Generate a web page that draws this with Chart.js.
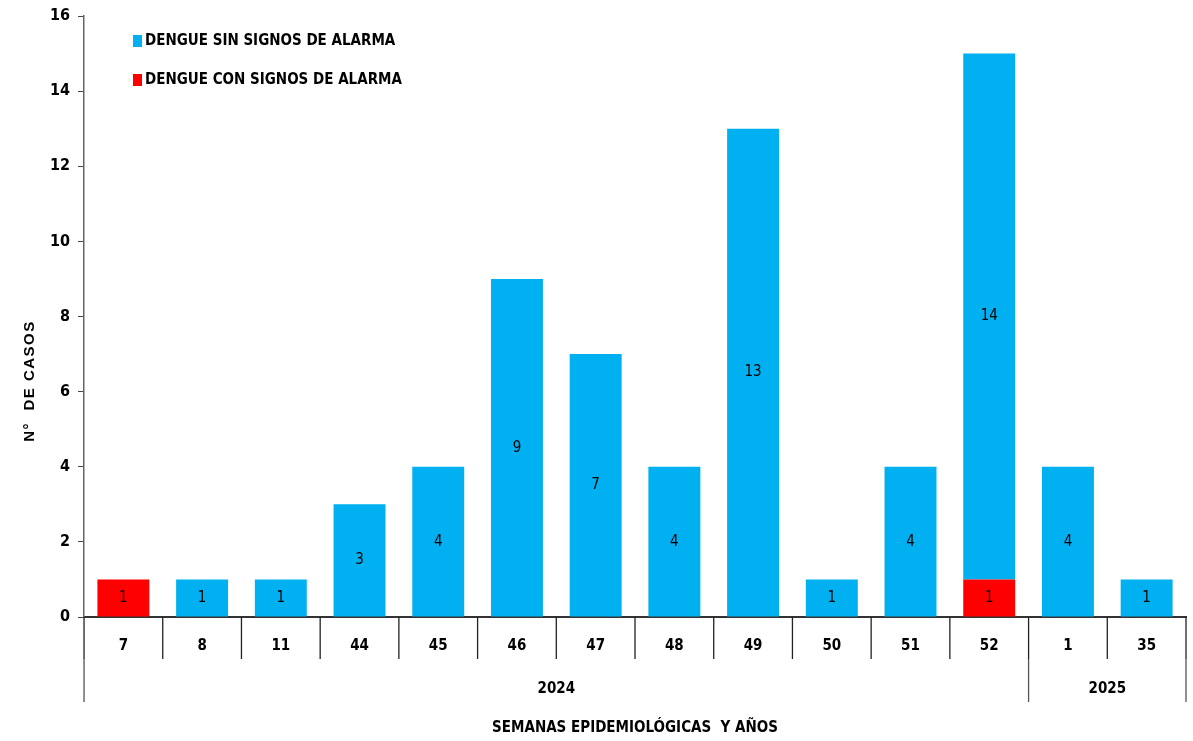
<!DOCTYPE html>
<html>
<head>
<meta charset="utf-8">
<script src="https://cdn.jsdelivr.net/npm/chart.js@4"></script>
<style>
  html, body { margin: 0; padding: 0; background: #fff; }
  #wrap { width: 1193px; height: 741px; }
</style>
</head>
<body>
<div id="wrap"><canvas id="casosChart" width="1193" height="741"></canvas></div>
<script>
// semanas epidemiologicas y años
const semanas = ['7', '8', '11', '44', '45', '46', '47', '48', '49', '50', '51', '52', '1', '35'];
const anios = [
  { label: '2024', from: 0, to: 11 },
  { label: '2025', from: 12, to: 13 }
];
const sinSignos = [0, 1, 1, 3, 4, 9, 7, 4, 13, 1, 4, 14, 4, 1];
const conSignos = [1, 0, 0, 0, 0, 0, 0, 0, 0, 0, 0, 1, 0, 0];
const yTicks = [0, 2, 4, 6, 8, 10, 12, 14, 16];

const NARROW = "'Liberation Sans Narrow', 'DejaVu Sans Condensed', 'Arial Narrow', sans-serif";

// etiquetas dentro de las barras
const barLabels = {
  id: 'barLabels',
  afterDatasetsDraw(chart) {
    const ctx = chart.ctx;
    ctx.save();
    ctx.font = '15px ' + NARROW;
    ctx.fillStyle = '#000';
    ctx.textAlign = 'center';
    ctx.textBaseline = 'middle';
    chart.data.datasets.forEach((ds, i) => {
      chart.getDatasetMeta(i).data.forEach((bar, j) => {
        if (!ds.data[j]) return;
        ctx.fillText(ds.data[j], bar.x, (bar.y + bar.base) / 2);
      });
    });
    ctx.restore();
  }
};

// lineas de separacion, años, leyenda y titulo del eje y
const extras = {
  id: 'extras',
  afterDraw(chart) {
    const ctx = chart.ctx;
    const area = chart.chartArea;
    const n = semanas.length;
    const step = (area.right - area.left) / n;
    const edge = i => area.left + i * step;
    ctx.save();
    ctx.strokeStyle = '#222';
    ctx.lineWidth = 1.3;
    for (let i = 0; i <= n; i++) {
      ctx.beginPath();
      ctx.moveTo(edge(i), area.bottom);
      ctx.lineTo(edge(i), area.bottom + 42);
      ctx.stroke();
    }
    ctx.strokeStyle = '#555';
    [0, 12, 14].forEach(i => {
      ctx.beginPath();
      ctx.moveTo(edge(i), area.bottom + 42);
      ctx.lineTo(edge(i), area.bottom + 85);
      ctx.stroke();
    });
    ctx.font = 'bold 15px ' + NARROW;
    ctx.fillStyle = '#000';
    ctx.textAlign = 'center';
    ctx.textBaseline = 'middle';
    anios.forEach(a => {
      const cx = (edge(a.from) + edge(a.to + 1)) / 2;
      ctx.fillText(a.label, cx, area.bottom + 72);
    });

    // leyenda
    ctx.textAlign = 'left';
    chart.data.datasets.slice().reverse().forEach((ds, k) => {
      const y = 41 + k * 39;
      ctx.fillStyle = ds.backgroundColor;
      ctx.fillRect(133, y - 6, 9, 12);
      ctx.fillStyle = '#000';
      ctx.fillText(ds.label, 145, y);
    });

    // titulo eje y
    ctx.translate(30, 381);
    ctx.rotate(-Math.PI / 2);
    ctx.textAlign = 'center';
    ctx.font = 'bold 15px Arial, "Liberation Sans", sans-serif';
    ctx.letterSpacing = '1.5px';
    ctx.fillText('N°  DE CASOS', 0, 0);
    ctx.restore();
  }
};

const ctx = document.getElementById('casosChart').getContext('2d');
new Chart(ctx, {
  type: 'bar',
  data: {
    labels: semanas,
    datasets: [
      {
        label: 'DENGUE CON SIGNOS DE ALARMA',
        data: conSignos,
        backgroundColor: '#FF0000',
        categoryPercentage: 0.66,
        barPercentage: 1.0
      },
      {
        label: 'DENGUE SIN SIGNOS DE ALARMA',
        data: sinSignos,
        backgroundColor: '#00B0F0',
        categoryPercentage: 0.66,
        barPercentage: 1.0
      }
    ]
  },
  options: {
    responsive: false,
    animation: false,
    layout: { padding: { left: 42, right: 7, top: 0, bottom: 4 } },
    plugins: {
      legend: { display: false },
      tooltip: { enabled: false }
    },
    scales: {
      x: {
        stacked: true,
        grid: { display: false },
        border: { display: true, color: '#333', width: 2 },
        ticks: {
          color: '#000',
          font: { family: NARROW, size: 15, weight: 'bold' },
          padding: 12,
          maxRotation: 0
        },
        title: {
          display: true,
          text: 'SEMANAS EPIDEMIOLÓGICAS  Y AÑOS',
          color: '#000',
          font: { family: NARROW, size: 15, weight: 'bold' },
          padding: { top: 52, bottom: 0 }
        }
      },
      y: {
        stacked: true,
        min: 0,
        max: 16,
        afterBuildTicks: axis => { axis.ticks = yTicks.map(v => ({ value: v })); },
        grid: { drawOnChartArea: false, drawTicks: true, tickLength: 6, color: '#444' },
        border: { display: true, color: '#666', width: 1.5 },
        ticks: {
          color: '#000',
          font: { family: NARROW, size: 16, weight: 'bold', lineHeight: 1.0 },
          padding: 8
        }
      }
    }
  },
  plugins: [barLabels, extras]
});
</script>
</body>
</html>
